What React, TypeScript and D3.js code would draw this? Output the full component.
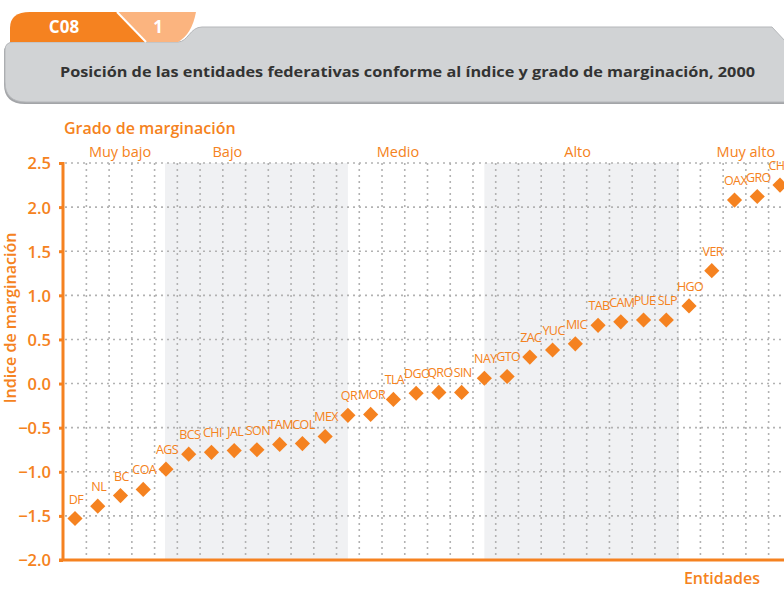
import React, { useRef, useEffect } from 'react';
import * as d3 from 'd3';

// entidades ordenadas por índice de marginación
const entidades = ['DF', 'NL', 'BC', 'COA', 'AGS', 'BCS', 'CHI', 'JAL', 'SON', 'TAM', 'COL', 'MEX', 'QR', 'MOR', 'TLA', 'DGO', 'QRO', 'SIN', 'NAY', 'GTO', 'ZAC', 'YUC', 'MIC', 'TAB', 'CAM', 'PUE', 'SLP', 'HGO', 'VER', 'OAX', 'GRO', 'CHIS'];
const indice = [-1.53, -1.39, -1.27, -1.2, -0.97, -0.8, -0.78, -0.76, -0.75, -0.69, -0.68, -0.6, -0.36, -0.35, -0.18, -0.11, -0.1, -0.1, 0.06, 0.08, 0.3, 0.38, 0.45, 0.66, 0.7, 0.72, 0.72, 0.88, 1.28, 2.08, 2.12, 2.25];

const grados = ['Muy bajo', 'Bajo', 'Medio', 'Alto', 'Muy alto'];
const gradoCentro = [1.98, 6.7, 14.2, 22.1, 29.5];
// franjas sombreadas (en posiciones de entidad)
const franjaInicio = [3.96, 18.0];
const franjaFin = [12.0, 26.56];

const yTicks = [2.5, 2.0, 1.5, 1.0, 0.5, 0.0, -0.5, -1.0, -1.5, -2.0];

const ORANGE = '#f58220';
const FONT = '"Open Sans", "Noto Sans", sans-serif';

const App = () => {
  const svgRef = useRef(null);

  useEffect(() => {
    const svg = d3.select(svgRef.current);
    svg.selectAll('*').remove();

    // header
    const hdr = svg.append('g');
    const panel = 'M5,50 Q5,42 14,42 L178,42 C188,42 190,27 202,27 L772,27 L786,42 L786,102 L26,102 Q5,102 5,82 Z';
    hdr.append('path').attr('d', panel).attr('transform', 'translate(-1,2)').attr('fill', '#a3a5a8');
    hdr.append('path').attr('d', panel).attr('fill', '#d1d3d5').attr('stroke', '#b5b7ba').attr('stroke-width', 1);
    hdr.append('path').attr('d', 'M10,42 L10,28 Q10,12 30,12 L117,12 L146,42 Z').attr('fill', ORANGE);
    hdr.append('path').attr('d', 'M117,12 L196,12 Q192,34 178,42 L146,42 Z').attr('fill', '#fbb47f');
    hdr.append('line').attr('x1', 117).attr('y1', 12).attr('x2', 146).attr('y2', 42).attr('stroke', '#fff').attr('stroke-width', 2);
    hdr.append('text').attr('x', 64).attr('y', 33).attr('text-anchor', 'middle')
      .attr('fill', '#fff').attr('font-family', FONT).attr('font-weight', 700).attr('font-size', 17).text('C08');
    hdr.append('text').attr('x', 158).attr('y', 33).attr('text-anchor', 'middle')
      .attr('fill', '#fff').attr('font-family', FONT).attr('font-weight', 700).attr('font-size', 17).text('1');
    hdr.append('text').attr('x', 60).attr('y', 77).attr('textLength', 695).attr('lengthAdjust', 'spacingAndGlyphs')
      .attr('fill', '#333').attr('font-family', FONT).attr('font-weight', 700).attr('font-size', 14.5)
      .text('Posición de las entidades federativas conforme al índice y grado de marginación, 2000');

    const x = d3.scaleLinear().domain([0, entidades.length - 1]).range([75, 780]);
    const y = d3.scaleLinear().domain([-2, 2.5]).range([560, 163]);
    const xAxis = 63;
    const xEnd = 784;

    const g = svg.append('g');

    // franjas
    franjaInicio.forEach((s, i) => {
      g.append('rect').attr('x', x(s)).attr('y', y(2.5)).attr('width', x(franjaFin[i]) - x(s))
        .attr('height', y(-2) - y(2.5)).attr('fill', '#f0f1f3');
    });

    // rejilla
    const grid = g.append('g').attr('stroke', '#b2b2b2').attr('stroke-width', 1.6).attr('stroke-dasharray', '2,4');
    d3.range(entidades.length - 1).forEach(i => {
      grid.append('line').attr('x1', x(i + 0.5)).attr('x2', x(i + 0.5)).attr('y1', y(2.5)).attr('y2', y(-2));
    });
    yTicks.filter(t => t > -2).forEach(t => {
      grid.append('line').attr('x1', xAxis + 2).attr('x2', xEnd).attr('y1', y(t)).attr('y2', y(t));
    });

    // ejes
    const yAx = g.append('g').attr('transform', `translate(${xAxis},0)`)
      .call(d3.axisLeft(y).tickValues(yTicks).tickSize(4).tickPadding(8).tickFormat(d3.format('.1f')));
    yAx.select('.domain').remove();
    yAx.selectAll('.tick line').attr('stroke', ORANGE).attr('stroke-width', 3);
    yAx.selectAll('.tick text').attr('fill', ORANGE).attr('font-family', FONT).attr('font-size', 16.5)
      .attr('font-weight', 600).attr('dy', '0.36em');
    g.append('line').attr('x1', xAxis).attr('x2', xAxis).attr('y1', y(2.5) - 1).attr('y2', y(-2))
      .attr('stroke', ORANGE).attr('stroke-width', 3);
    g.append('line').attr('x1', xAxis - 4).attr('x2', xEnd).attr('y1', y(-2)).attr('y2', y(-2))
      .attr('stroke', ORANGE).attr('stroke-width', 3);

    // puntos
    const diamond = d3.symbol().type(d3.symbolSquare).size(115)();
    g.selectAll('.pt').data(indice).enter().append('path')
      .attr('class', 'pt').attr('d', diamond)
      .attr('transform', (d, i) => `translate(${x(i)},${y(d)}) rotate(45)`)
      .attr('fill', ORANGE);
    g.selectAll('.lbl').data(indice).enter().append('text')
      .attr('class', 'lbl').attr('x', (d, i) => x(i) + 1).attr('y', d => y(d) - 15)
      .attr('text-anchor', 'middle').attr('fill', ORANGE).attr('font-family', FONT)
      .attr('font-size', 12.5).attr('letter-spacing', -0.6)
      .text((d, i) => entidades[i]);

    // grados
    grados.forEach((gr, i) => {
      g.append('text').attr('x', x(gradoCentro[i])).attr('y', 157).attr('text-anchor', 'middle')
        .attr('fill', ORANGE).attr('font-family', FONT).attr('font-size', 14.5).attr('font-weight', 500).text(gr);
    });

    g.append('text').attr('x', 64).attr('y', 134).attr('fill', ORANGE).attr('font-family', FONT)
      .attr('font-size', 16).attr('font-weight', 600).text('Grado de marginación');
    g.append('text').attr('transform', 'translate(16,318) rotate(-90)').attr('text-anchor', 'middle')
      .attr('fill', ORANGE).attr('font-family', FONT).attr('font-size', 16).attr('font-weight', 600)
      .text('Indice de marginación');
    g.append('text').attr('x', 760).attr('y', 584).attr('text-anchor', 'end').attr('fill', ORANGE)
      .attr('font-family', FONT).attr('font-size', 16).attr('font-weight', 600).text('Entidades');
  }, []);

  return (
    <svg ref={svgRef} width={784} height={592}
      style={{ position: 'absolute', left: 0, top: 0, background: '#fff' }} />
  );
};

export default App;
